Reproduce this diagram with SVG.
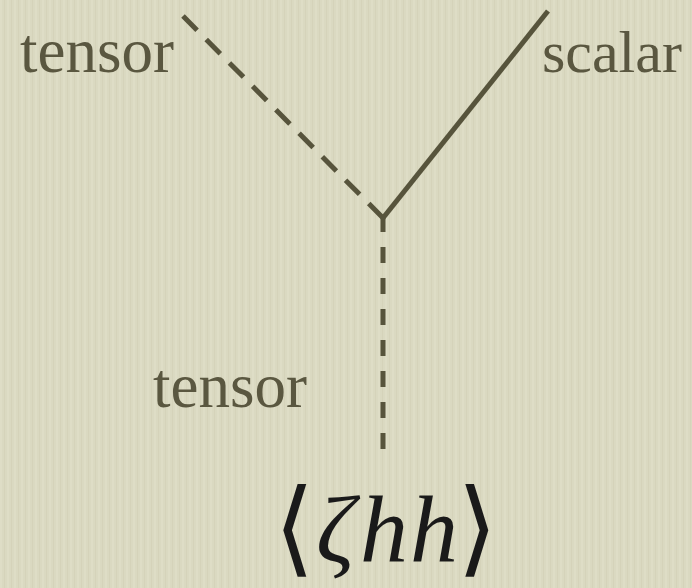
<svg xmlns="http://www.w3.org/2000/svg" width="692" height="588" viewBox="0 0 692 588">
<defs>
<pattern id="tex" width="7" height="588" patternUnits="userSpaceOnUse">
<rect x="0" y="0" width="2" height="588" fill="#e2e1cb" opacity="0.5"/>
<rect x="4" y="0" width="1" height="588" fill="#cfcdb3" opacity="0.5"/>
</pattern>
</defs>
<style>
.lbl{font-family:"Liberation Serif",serif;font-size:63px;fill:#5a5740}
.ln{stroke:#57543c;stroke-width:5;fill:none}
.dash{stroke-dasharray:20 13}
.vdash{stroke-dasharray:16 15}
.br{font-family:"DejaVu Serif",serif;font-size:104px;fill:#1a1a1a}
.it{font-family:"Liberation Serif",serif;font-style:italic;font-size:96px;fill:#1a1a1a}
</style>
<rect width="692" height="588" fill="#dad9c1"/>
<rect width="692" height="588" fill="url(#tex)"/>
<g id="connectors">
<line class="ln dash" x1="183" y1="16" x2="383" y2="218"/>
<line class="ln" x1="383" y1="218" x2="548" y2="11"/>
<line class="ln vdash" x1="383" y1="216" x2="383" y2="452"/>
</g>
<g id="tensor-top"><text class="lbl" x="20" y="72">tensor</text></g>
<g id="scalar"><text class="lbl" x="542" y="72" style="font-size:60px">scalar</text></g>
<g id="tensor-bottom"><text class="lbl" x="153" y="407">tensor</text></g>
<g id="correlator">
<text class="br" x="274" y="563">⟨</text>
<text class="it" x="316" y="562">ζ<tspan x="360">h</tspan><tspan x="410">h</tspan></text>
<text class="br" x="457" y="563">⟩</text>
</g>
</svg>
